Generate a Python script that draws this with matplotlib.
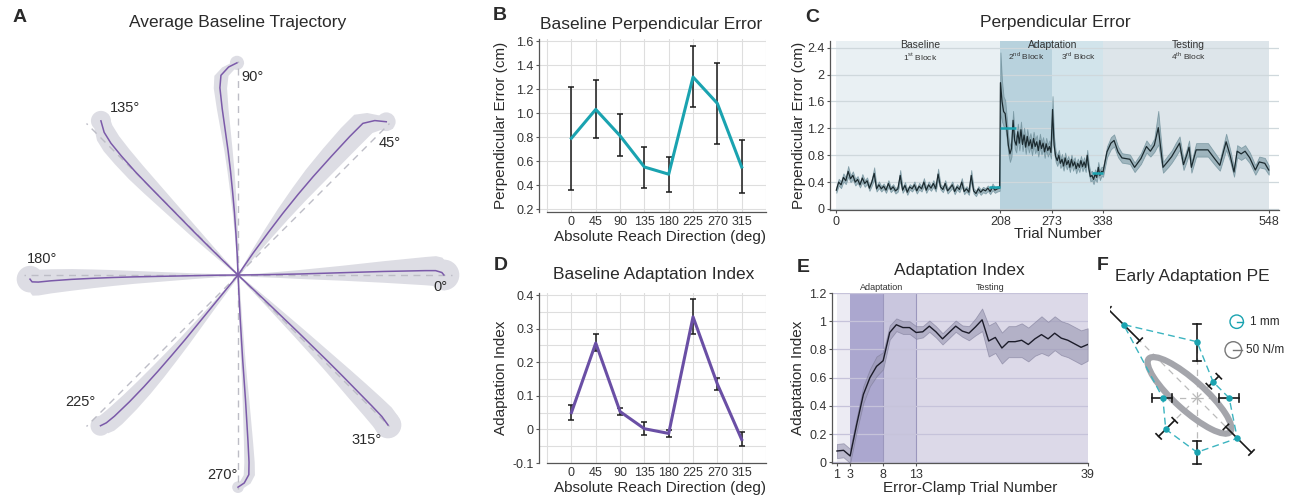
import numpy as np
import matplotlib
matplotlib.use('Agg')
import matplotlib.pyplot as plt
from matplotlib.transforms import Affine2D
from matplotlib.patches import Circle, Ellipse

plt.rcParams['font.family'] = ['Liberation Sans', 'DejaVu Sans']
plt.rcParams['mathtext.fontset'] = 'custom'
plt.rcParams['mathtext.rm'] = 'Liberation Sans'

W, H = 1298, 499

# ---------------- data ----------------
directions = [0, 45, 90, 135, 180, 225, 270, 315]

# A: mean baseline trajectories in a frame along each target (cm)
traj_s = [
    [0, 1, 2, 3, 4, 5, 6, 7, 8, 9, 9.5, 9.8, 9.9],
    [0, 1.25, 2.5, 3.6, 4.8, 5.9, 7.2, 8.5, 9.4, 9.9, 10.25],
    [0, 1, 2, 3, 4, 5, 6, 7, 8, 9, 9.6, 10.0, 10.2],
    [0, 1, 2, 3, 4, 5, 6, 7, 8, 8.8, 9.4, 9.9],
    [0, 1, 2, 3, 4, 5, 6, 7, 8, 9, 9.6, 9.9, 10.0],
    [0, 1, 2, 3, 4, 5, 6, 7, 8, 9, 9.5, 9.8],
    [0, 1, 2, 3, 4, 5, 6, 7, 8, 9, 9.6, 10.0, 10.2],
    [0, 1, 2, 3, 4, 5, 6, 7, 8, 9, 9.7, 10.2],
]
traj_perp = [
    [0, 0.01, 0.03, 0.05, 0.08, 0.11, 0.14, 0.17, 0.19, 0.21, 0.21, 0.12, 0.0],
    [0, 0.23, 0.42, 0.57, 0.7, 0.79, 0.86, 0.91, 0.91, 0.6, 0.17],
    [0, 0.04, 0.1, 0.17, 0.26, 0.36, 0.48, 0.62, 0.76, 0.87, 0.82, 0.45, 0.05],
    [0, 0.02, 0.03, 0.03, 0.02, 0.01, 0, -0.02, -0.08, -0.16, -0.3, -0.58],
    [0, 0.01, 0.03, 0.05, 0.07, 0.09, 0.12, 0.16, 0.21, 0.28, 0.34, 0.33, 0.2],
    [0, 0.1, 0.2, 0.3, 0.4, 0.48, 0.55, 0.6, 0.62, 0.6, 0.55, 0.45],
    [0, 0.05, 0.1, 0.16, 0.22, 0.29, 0.36, 0.42, 0.48, 0.53, 0.52, 0.3, 0.0],
    [0, 0.03, 0.06, 0.08, 0.1, 0.11, 0.12, 0.12, 0.11, 0.1, 0.08, 0.0],
]
traj_hw = [
    [0.04, 0.09, 0.15, 0.22, 0.29, 0.36, 0.44, 0.52, 0.6, 0.68, 0.72, 0.74, 0.74],
    [0.04, 0.15, 0.26, 0.35, 0.44, 0.52, 0.58, 0.62, 0.62, 0.55, 0.45],
    [0.04, 0.06, 0.08, 0.11, 0.14, 0.17, 0.2, 0.24, 0.28, 0.32, 0.34, 0.34, 0.34],
    [0.04, 0.1, 0.17, 0.24, 0.3, 0.36, 0.42, 0.47, 0.5, 0.52, 0.52, 0.48],
    [0.04, 0.08, 0.13, 0.19, 0.25, 0.31, 0.38, 0.45, 0.52, 0.58, 0.62, 0.64, 0.64],
    [0.04, 0.09, 0.14, 0.2, 0.26, 0.32, 0.38, 0.43, 0.47, 0.5, 0.5, 0.48],
    [0.04, 0.05, 0.07, 0.09, 0.11, 0.13, 0.16, 0.19, 0.22, 0.25, 0.27, 0.28, 0.28],
    [0.04, 0.1, 0.16, 0.22, 0.28, 0.34, 0.4, 0.47, 0.54, 0.6, 0.64, 0.64],
]
target_dist = 10.3

# B: baseline perpendicular error (cm)
pe_mean = np.array([0.79, 1.03, 0.81, 0.55, 0.49, 1.30, 1.08, 0.55])
pe_lo = np.array([0.36, 0.79, 0.64, 0.375, 0.34, 1.05, 0.745, 0.33])
pe_hi = np.array([1.215, 1.275, 0.99, 0.715, 0.635, 1.555, 1.415, 0.775])

# D: baseline adaptation index
ai_mean = np.array([0.05, 0.257, 0.053, 0.002, -0.012, 0.335, 0.135, -0.03])
ai_lo = np.array([0.028, 0.232, 0.043, -0.018, -0.022, 0.283, 0.116, -0.05])
ai_hi = np.array([0.072, 0.283, 0.063, 0.022, -0.002, 0.387, 0.153, -0.008])

# C: perpendicular error over trials
c_trials = list(range(0, 208, 3)) + list(range(208, 273, 2)) + list(range(274, 337, 2)) + [
    338, 343, 348, 352, 357, 362, 367, 372, 378, 386, 393, 398, 403, 408, 414, 421, 425, 430,
    435, 440, 444, 447, 450, 456, 463, 471, 480, 486, 494, 499, 504, 508, 513, 518, 524, 531,
    536, 543, 548]
c_pe = [
    # baseline
    0.28, 0.40, 0.36, 0.47, 0.42, 0.56, 0.45, 0.50, 0.40, 0.44, 0.36, 0.46, 0.38, 0.42, 0.31,
    0.40, 0.53, 0.30, 0.36, 0.30, 0.34, 0.28, 0.38, 0.29, 0.33, 0.27, 0.30, 0.50, 0.28, 0.35,
    0.25, 0.33, 0.30, 0.36, 0.27, 0.34, 0.30, 0.40, 0.28, 0.36, 0.31, 0.38, 0.30, 0.52, 0.33,
    0.29, 0.38, 0.27, 0.31, 0.36, 0.26, 0.33, 0.29, 0.40, 0.26, 0.30, 0.25, 0.50, 0.27, 0.23,
    0.30, 0.25, 0.29, 0.27, 0.31, 0.26, 0.33, 0.28, 0.30, 0.31,
    # adaptation, 2nd block
    1.88, 1.60, 1.45, 1.42, 1.20, 0.95, 0.82, 0.90, 1.32, 1.02, 0.95, 1.15, 0.98, 1.18, 0.96,
    1.10, 0.92, 1.08, 0.94, 1.03, 0.90, 1.05, 0.93, 1.00, 0.87, 1.02, 0.90, 0.98, 0.85, 0.97,
    0.87, 0.93, 0.84,
    # adaptation, 3rd block
    1.48, 0.95, 0.78, 0.72, 0.80, 0.68, 0.74, 0.64, 0.76, 0.66, 0.72, 0.62, 0.74, 0.64, 0.70,
    0.60, 0.68, 0.62, 0.72, 0.63, 0.70, 0.62, 0.80, 0.60, 0.48, 0.50, 0.44, 0.52, 0.47, 0.62,
    0.50, 0.56,
    # testing
    0.55, 0.85, 0.98, 1.02, 0.85, 0.76, 0.75, 0.74, 0.62, 0.75, 0.93, 0.86, 0.95, 1.21, 0.62,
    0.72, 0.78, 0.88, 0.98, 0.66, 0.80, 0.92, 0.62, 0.88, 0.88, 0.88, 0.74, 0.65, 1.00, 0.80,
    0.55, 0.86, 0.82, 0.86, 0.76, 0.58, 0.70, 0.68, 0.58]
c_sem = [
    0.04, 0.05, 0.05, 0.06, 0.05, 0.08, 0.05, 0.06, 0.05, 0.05, 0.04, 0.06, 0.05, 0.05, 0.04,
    0.05, 0.09, 0.04, 0.05, 0.04, 0.04, 0.04, 0.05, 0.04, 0.04, 0.04, 0.04, 0.08, 0.04, 0.05,
    0.04, 0.04, 0.04, 0.05, 0.04, 0.05, 0.04, 0.06, 0.04, 0.05, 0.04, 0.05, 0.04, 0.08, 0.04,
    0.04, 0.05, 0.04, 0.04, 0.05, 0.04, 0.04, 0.04, 0.06, 0.04, 0.04, 0.04, 0.08, 0.04, 0.04,
    0.04, 0.04, 0.04, 0.04, 0.04, 0.04, 0.05, 0.04, 0.04, 0.04,
    0.45, 0.30, 0.22, 0.20, 0.16, 0.13, 0.12, 0.12, 0.14, 0.12, 0.11, 0.12, 0.11, 0.12, 0.10,
    0.11, 0.10, 0.11, 0.10, 0.10, 0.10, 0.10, 0.10, 0.10, 0.09, 0.10, 0.09, 0.09, 0.09, 0.09,
    0.09, 0.09, 0.09,
    0.20, 0.12, 0.08, 0.08, 0.08, 0.07, 0.08, 0.07, 0.08, 0.07, 0.07, 0.07, 0.07, 0.07, 0.07,
    0.07, 0.07, 0.07, 0.07, 0.07, 0.07, 0.07, 0.08, 0.07, 0.07, 0.07, 0.07, 0.07, 0.07, 0.08,
    0.07, 0.07,
    0.07, 0.08, 0.09, 0.09, 0.08, 0.07, 0.07, 0.07, 0.07, 0.08, 0.09, 0.08, 0.10, 0.25, 0.08,
    0.09, 0.09, 0.10, 0.10, 0.08, 0.09, 0.10, 0.08, 0.10, 0.10, 0.10, 0.09, 0.08, 0.12, 0.09,
    0.07, 0.09, 0.09, 0.09, 0.08, 0.07, 0.08, 0.08, 0.07]
c_block_edges = [0, 208, 273, 338, 548]
c_block_colors = ['#e9f0f3', '#b8d2dd', '#d2e4eb', '#dde5ea']
c_mean_level = [0.32, 1.20, 0.53]
c_mean_from = [194, 208, 324]
c_mean_to = [208, 228, 338]

# E: adaptation index on error-clamp trials
e_trials = list(range(1, 40))
e_ai = [0.08, 0.085, 0.045, 0.27, 0.48, 0.60, 0.68, 0.72, 0.92, 0.975, 0.955, 0.955, 0.92,
        0.925, 0.965, 0.925, 0.875, 0.92, 0.965, 0.93, 0.915, 0.96, 1.01, 0.86, 0.885, 0.81,
        0.855, 0.855, 0.865, 0.835, 0.875, 0.905, 0.875, 0.915, 0.88, 0.865, 0.84, 0.815, 0.835]
e_sem = [0.05, 0.05, 0.05, 0.05, 0.06, 0.06, 0.07, 0.06, 0.05, 0.045, 0.045, 0.045, 0.045,
         0.04, 0.04, 0.04, 0.04, 0.04, 0.04, 0.04, 0.05, 0.06, 0.08, 0.11, 0.11, 0.11, 0.11,
         0.11, 0.12, 0.12, 0.12, 0.13, 0.12, 0.12, 0.12, 0.12, 0.12, 0.12, 0.115]
e_block_edges = [1, 3, 8, 13, 39]
e_block_colors = ['#ecebf3', '#aba7cf', '#c9c6de', '#dcd9e8']

# F: early adaptation perpendicular error (mm) and stiffness ellipse (N/m)
f_pe = np.array([4.8, 3.4, 8.4, 15.5, 5.1, 6.6, 8.1, 8.5])
f_lo = np.array([3.3, 2.5, 5.5, 12.1, 3.7, 4.7, 6.4, 6.1])
f_hi = np.array([6.3, 4.6, 11.0, 18.7, 6.7, 8.1, 9.9, 11.5])
k_major, k_minor, k_angle = 330, 90, 138
k_center = (-45, 16)   # N/m offset of ellipse centre

teal = '#1aa3b0'
purple = '#6a4fa5'
txt = '#2a2a2a'

fig = plt.figure(figsize=(W / 100, H / 100), dpi=100)


def box(l, t, r, b):
    return [l / W, 1 - b / H, (r - l) / W, (b - t) / H]


def ftext(x, y, s, **kw):
    kw.setdefault('ha', 'center')
    kw.setdefault('va', 'center')
    kw.setdefault('color', txt)
    fig.text(x / W, 1 - y / H, s, **kw)


def style(ax):
    for sp in ['top', 'right']:
        ax.spines[sp].set_visible(False)
    for sp in ['left', 'bottom']:
        ax.spines[sp].set_color('#555555')
        ax.spines[sp].set_linewidth(0.9)
    ax.tick_params(labelsize=9, colors='#555555', labelcolor='#333333', length=2.5,
                   width=0.8, pad=1.5)


def labels(ax, xl, xpos, yl, ypos):
    ax.set_xlabel(xl, fontsize=11, color=txt)
    ax.set_ylabel(yl, fontsize=11, color=txt)
    ax.xaxis.set_label_coords(xpos[0] / W, 1 - xpos[1] / H, transform=fig.transFigure)
    ax.yaxis.set_label_coords(ypos[0] / W, 1 - ypos[1] / H, transform=fig.transFigure)
    ax.xaxis.label.set_va('center')
    ax.yaxis.label.set_va('center')


# ---------------- A ----------------
PX_PER_CM = 20.8
axA = fig.add_axes(box(0, 45, 476, 499))
axA.set_xlim(-238, 238)
axA.set_ylim(-224, 230)
axA.axis('off')
for a, s, p, w in zip(directions, traj_s, traj_perp, traj_hw):
    tr = Affine2D().scale(PX_PER_CM).rotate_deg(a) + axA.transData
    s, p, w = np.array(s), np.array(p), np.array(w)
    axA.fill_between(s, p - w, p + w, transform=tr, color='#dddde4', lw=0, zorder=1)
    axA.add_patch(Circle((s[-1], p[-1]), w[-1], transform=tr, color='#dddde4', lw=0, zorder=1))
for a in directions:
    tr = Affine2D().scale(PX_PER_CM).rotate_deg(a) + axA.transData
    axA.plot([0, target_dist], [0, 0], transform=tr, color='#bdbdc6', lw=1,
             ls=(0, (5, 4)), zorder=2)
for a, s, p in zip(directions, traj_s, traj_perp):
    tr = Affine2D().scale(PX_PER_CM).rotate_deg(a) + axA.transData
    axA.plot(s, p, transform=tr, color='#7b5aa9', lw=1.1, zorder=3)

ftext(20, 18, 'A', fontsize=14, fontweight='bold')
ftext(238, 23, 'Average Baseline Trajectory', fontsize=12.5)
for lab, (x, y) in zip(['0°', '45°', '90°', '135°', '180°', '225°', '270°', '315°'],
                       [(440, 287), (390, 143), (253, 77), (125, 108), (42, 259),
                        (80, 402), (222, 475), (367, 440)]):
    ftext(x, y, lab, fontsize=10.5)

# ---------------- B ----------------
axB = fig.add_axes(box(539, 39, 766, 212))
style(axB)
axB.errorbar(directions, pe_mean, yerr=[pe_mean - pe_lo, pe_hi - pe_mean], color=teal, lw=2.2,
             ecolor='#1a1a1a', elinewidth=1.1, capsize=2, capthick=1.1, zorder=3)
axB.set_xlim(-60, 360)
axB.set_ylim(0.175, 1.617)
axB.set_xticks(np.arange(-45, 361, 45))
axB.set_xticklabels([''] + [str(d) for d in directions] + [''])
axB.set_yticks([0.2, 0.4, 0.6, 0.8, 1.0, 1.2, 1.4, 1.6])
axB.set_yticklabels(['0.2', '0.4', '0.6', '0.8', '1.0', '1.2', '1.4', '1.6'])
axB.tick_params(axis='x', length=0, pad=3)
axB.spines['bottom'].set_bounds(-45, 360)
axB.grid(True, color='#dedede', lw=0.8)
labels(axB, 'Absolute Reach Direction (deg)', (660, 237), 'Perpendicular Error (cm)', (501, 125))
ftext(500, 16, 'B', fontsize=14, fontweight='bold')
ftext(651, 24, 'Baseline Perpendicular Error', fontsize=12.5)

# ---------------- D ----------------
axD = fig.add_axes(box(539, 293, 766, 463))
style(axD)
axD.errorbar(directions, ai_mean, yerr=[ai_mean - ai_lo, ai_hi - ai_mean], color=purple, lw=2.2,
             ecolor='#1a1a1a', elinewidth=1.1, capsize=2, capthick=1.1, zorder=3)
axD.set_xlim(-60, 360)
axD.set_ylim(-0.1, 0.406)
axD.set_xticks(np.arange(-45, 361, 45))
axD.set_xticklabels([''] + [str(d) for d in directions] + [''])
axD.set_yticks([-0.1, 0, 0.1, 0.2, 0.3, 0.4])
axD.set_yticklabels(['-0.1', '0', '0.1', '0.2', '0.3', '0.4'])
axD.set_yticks([-0.05, 0.05, 0.15, 0.25, 0.35], minor=True)
axD.tick_params(axis='x', length=0, pad=3)
axD.tick_params(axis='y', which='minor', length=0)
axD.spines['bottom'].set_bounds(-45, 360)
axD.grid(True, which='both', color='#dedede', lw=0.8)
labels(axD, 'Absolute Reach Direction (deg)', (660, 488), 'Adaptation Index', (501, 378))
ftext(501, 265, 'D', fontsize=14, fontweight='bold')
ftext(654, 274, 'Baseline Adaptation Index', fontsize=12.5)

# ---------------- C ----------------
axC = fig.add_axes(box(830, 41, 1279, 210))
style(axC)
for x0, x1, col in zip(c_block_edges[:-1], c_block_edges[1:], c_block_colors):
    axC.axvspan(x0, x1, color=col, lw=0, zorder=0)
ct = np.array(c_trials)
cp = np.array(c_pe)
cs = np.array(c_sem)
axC.fill_between(ct, cp - cs, cp + cs, color='#8aa6b0', alpha=0.75, lw=0.6,
                 edgecolor='#6f8f9a', zorder=2)
axC.plot(ct, cp, color='#1b2a2f', lw=0.9, zorder=3)
axC.hlines(c_mean_level, c_mean_from, c_mean_to, color=teal, lw=1.8, zorder=4)
axC.set_xlim(-8, 561)
axC.set_ylim(-0.015, 2.5)
axC.set_xticks(c_block_edges)
axC.set_yticks([0, 0.4, 0.8, 1.2, 1.6, 2.0, 2.4])
axC.set_yticklabels(['0', '0.4', '0.8', '1.2', '1.6', '2', '2.4'])
axC.grid(True, axis='y', color='#cfd8dc', lw=0.9)
labels(axC, 'Trial Number', (1058, 234), 'Perpendicular Error (cm)', (799, 125))
ftext(812, 17, 'C', fontsize=14, fontweight='bold')
ftext(1055, 23, 'Perpendicular Error', fontsize=12.5)
ftext(920, 45, 'Baseline', fontsize=7.5, color='#333333')
ftext(920, 56, r'1$^{\mathrm{st}}$ Block', fontsize=6, color='#333333')
ftext(1053, 45, 'Adaptation', fontsize=7.5, color='#333333')
ftext(1026, 56, r'2$^{\mathrm{nd}}$ Block', fontsize=6, color='#333333')
ftext(1079, 56, r'3$^{\mathrm{rd}}$ Block', fontsize=6, color='#333333')
ftext(1188, 45, 'Testing', fontsize=7.5, color='#333333')
ftext(1188, 56, r'4$^{\mathrm{th}}$ Block', fontsize=6, color='#333333')

# ---------------- E ----------------
axE = fig.add_axes(box(832, 293, 1088, 463))
style(axE)
for x0, x1, col in zip(e_block_edges[:-1], e_block_edges[1:], e_block_colors):
    axE.axvspan(x0, x1, color=col, lw=0, zorder=0)
axE.vlines([8, 13], 0, 1.2, color='#9b97bd', lw=0.8, zorder=1)
et = np.array(e_trials)
ea = np.array(e_ai)
es = np.array(e_sem)
axE.fill_between(et, ea - es, ea + es, color='#9997b2', alpha=0.6, lw=0.6,
                 edgecolor='#7d7b98', zorder=2)
axE.plot(et, ea, color='#1c1c2a', lw=1.0, zorder=3)
axE.set_xlim(0.25, 39.05)
axE.set_ylim(-0.005, 1.2)
axE.set_xticks([1, 3, 8, 13, 39])
axE.set_yticks([0, 0.2, 0.4, 0.6, 0.8, 1.0, 1.2])
axE.set_yticklabels(['0', '0.2', '0.4', '0.6', '0.8', '1', '1.2'])
axE.grid(True, axis='y', color='#c6c3da', lw=0.9)
labels(axE, 'Error-Clamp Trial Number', (970, 488), 'Adaptation Index', (798, 378))
ftext(803, 268, 'E', fontsize=14, fontweight='bold')
ftext(959, 270, 'Adaptation Index', fontsize=12.5)
ftext(882, 287, 'Adaptation', fontsize=6.5, color='#333333')
ftext(990, 288, 'Testing', fontsize=6.5, color='#333333')

# ---------------- F ----------------
PX_PER_MM = 6.7
PX_PER_NM = 8.3 / 50
axF = fig.add_axes(box(1110, 290, 1298, 499))
axF.set_xlim(-87, 101)
axF.set_ylim(-101, 108)
axF.axis('off')
rad = np.deg2rad(directions)
fx = f_pe * PX_PER_MM * np.cos(rad)
fy = f_pe * PX_PER_MM * np.sin(rad)
for a, r in zip(directions, f_pe):
    tr = Affine2D().scale(PX_PER_MM).rotate_deg(a) + axF.transData
    axF.plot([0, r], [0, 0], transform=tr, color='#bbbbbb', lw=0.9, ls=(0, (5, 4)), zorder=1)
axF.add_patch(Ellipse((k_center[0] * PX_PER_NM, k_center[1] * PX_PER_NM),
                      2 * k_major * PX_PER_NM, 2 * k_minor * PX_PER_NM, angle=k_angle,
                      fill=False, edgecolor='#a4a5ab', lw=4.5, zorder=2))
axF.plot(np.append(fx, fx[0]), np.append(fy, fy[0]), color='#3cb4c0', lw=1,
         ls=(0, (5, 3)), zorder=3)
for a, lo, hi in zip(directions, f_lo, f_hi):
    tr = Affine2D().scale(PX_PER_MM).rotate_deg(a) + axF.transData
    axF.plot([lo, hi], [0, 0], transform=tr, color='#1a1a1a', lw=1.2, zorder=4)
    for e in (lo, hi):
        axF.plot([e, e], [-0.55, 0.55], transform=tr, color='#1a1a1a', lw=1.2, zorder=4)
axF.scatter(fx, fy, s=22, color=teal, zorder=5, lw=0)
# scale legend
axF.add_patch(Circle((39.7, 76.3), 1 * PX_PER_MM, fill=False, edgecolor=teal, lw=1))
axF.plot([39.7, 39.7 + PX_PER_MM], [76.3, 76.3], color=teal, lw=1)
axF.add_patch(Circle((36.3, 48), 50 * PX_PER_NM, fill=False, edgecolor='#777777', lw=1))
axF.plot([36.3, 36.3 + 50 * PX_PER_NM], [48, 48], color='#777777', lw=1)
axF.text(53, 76.3, '1 mm', fontsize=8.5, va='center', color=txt)
axF.text(49, 48, '50 N/m', fontsize=8.5, va='center', color=txt)
ftext(1103, 266, 'F', fontsize=14, fontweight='bold')
ftext(1192, 277, 'Early Adaptation PE', fontsize=12.5)

fig.savefig('out.png', dpi=100)
